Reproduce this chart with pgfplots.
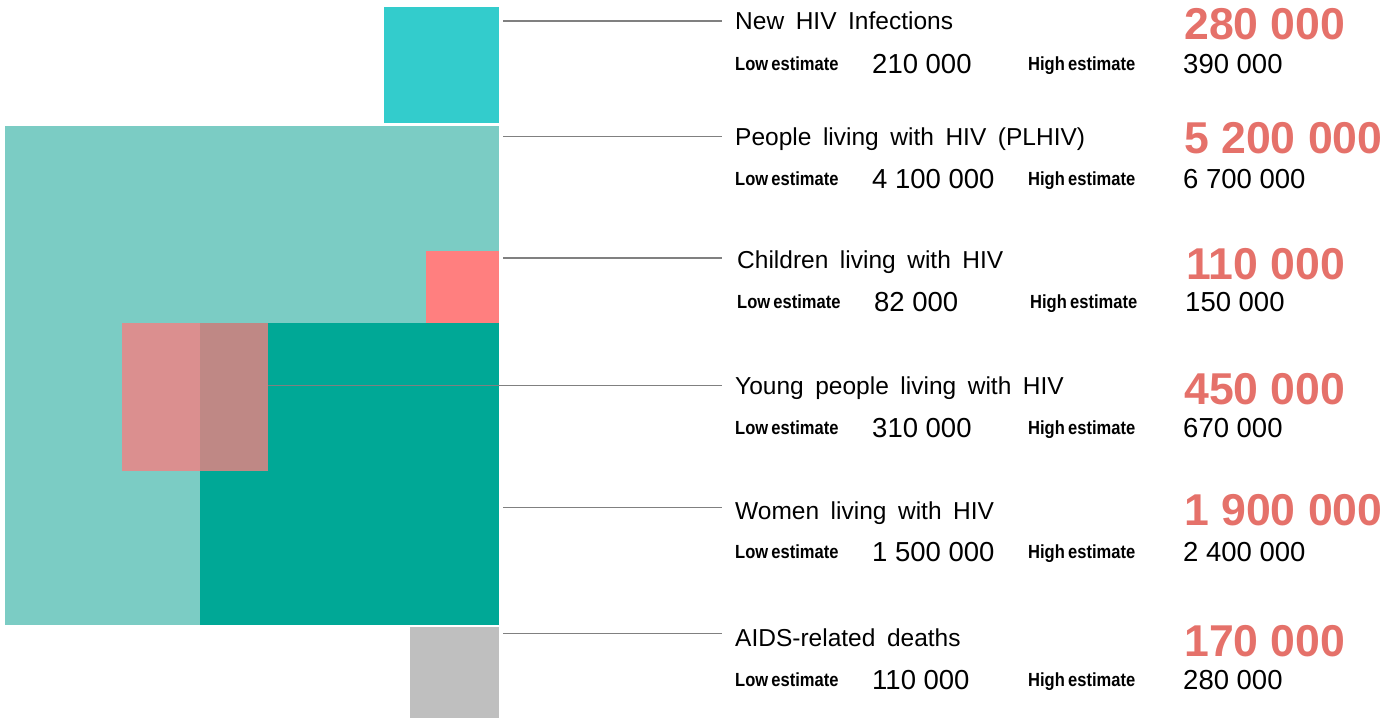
\documentclass[border=0pt]{standalone}
\usepackage{pgfplots}
\pgfplotsset{compat=1.18}
\usepackage{fontspec}
\setmainfont{Liberation Sans}
\newfontfamily\labfont[WordSpace=1.7]{Liberation Sans}
\newfontfamily\estfont[FakeStretch=0.87,WordSpace=0.7]{Liberation Sans Bold}
\newfontfamily\bigfont{Liberation Sans Bold}
\definecolor{cNew}{HTML}{33CCCC}
\definecolor{cPL}{HTML}{7BCCC4}
\definecolor{cChild}{HTML}{FF7F7F}
\definecolor{cWomen}{HTML}{00A896}
\definecolor{cYoung}{HTML}{DB8F8F}
\definecolor{cYoungW}{HTML}{BF8885}
\definecolor{cDeath}{HTML}{BFBFBF}
\definecolor{cRed}{HTML}{E5716A}
\definecolor{cLine}{HTML}{808080}
\newcommand{\row}[9]{%
  \node[anchor=base west,inner sep=0] at (axis cs:#1,#2) {\fontsize{24.5}{27}\labfont #3};
  \node[anchor=base west,inner sep=0,text=cRed] at (axis cs:1184+#9,#4) {\fontsize{44.6}{50}\bigfont #5};
  \node[anchor=base west,inner sep=0] at (axis cs:#1,#6-3) {\fontsize{19}{22}\estfont Low estimate};
  \node[anchor=base west,inner sep=0] at (axis cs:872+#9,#6) {\fontsize{27.5}{30}\selectfont #7};
  \node[anchor=base west,inner sep=0] at (axis cs:1028+#9,#6-3) {\fontsize{19}{22}\estfont High estimate};
  \node[anchor=base west,inner sep=0] at (axis cs:1183+#9,#6) {\fontsize{27.5}{30}\selectfont #8};
}
\begin{document}
\begin{tikzpicture}
\begin{axis}[
  width=1395pt, height=718pt, scale only axis,
  xmin=0, xmax=1395, ymin=0, ymax=718, y dir=reverse,
  hide axis, clip=false,
]
\addplot[draw=none] coordinates {(0,0) (1395,718)};
% squares (area proportional)
\addplot[fill=cNew, draw=none] coordinates {(384,7) (499,7) (499,123) (384,123)} -- cycle;
\addplot[fill=cPL, draw=none] coordinates {(5,126) (499,126) (499,625) (5,625)} -- cycle;
\addplot[fill=cChild, draw=none] coordinates {(426,251) (499,251) (499,324) (426,324)} -- cycle;
\addplot[fill=cWomen, draw=none] coordinates {(200,323) (499,323) (499,625) (200,625)} -- cycle;
\addplot[fill=cYoung, draw=none] coordinates {(122,323) (200,323) (200,471) (122,471)} -- cycle;
\addplot[fill=cYoungW, draw=none] coordinates {(200,323) (268,323) (268,471) (200,471)} -- cycle;
\addplot[fill=cDeath, draw=none] coordinates {(410,627) (499,627) (499,718) (410,718)} -- cycle;
% leader lines
\addplot[cLine, line width=1.5pt] coordinates {(503,21) (722,21)};
\addplot[cLine, line width=1.5pt] coordinates {(503,136.5) (722,136.5)};
\addplot[cLine, line width=1.5pt] coordinates {(503,258) (722,258)};
\addplot[cLine, line width=1.5pt] coordinates {(268,385.5) (722,385.5)};
\addplot[cLine, line width=1.5pt] coordinates {(503,507.5) (722,507.5)};
\addplot[cLine, line width=1.5pt] coordinates {(503,633.5) (722,633.5)};
% texts
\row{735}{29}{New HIV Infections}{39}{280 000}{73}{210 000}{390 000}{0}
\row{735}{145}{People living with HIV (PLHIV)}{153}{5 200 000}{188}{4 100 000}{6 700 000}{0}
\row{737}{268}{Children living with HIV}{279}{110 000}{311}{82 000}{150 000}{2}
\row{735}{394}{Young people living with HIV}{404}{450 000}{437}{310 000}{670 000}{0}
\row{735}{519}{Women living with HIV}{525}{1 900 000}{561}{1 500 000}{2 400 000}{0}
\row{735}{646}{AIDS-related deaths}{656}{170 000}{689}{110 000}{280 000}{0}
\end{axis}
\end{tikzpicture}
\end{document}
